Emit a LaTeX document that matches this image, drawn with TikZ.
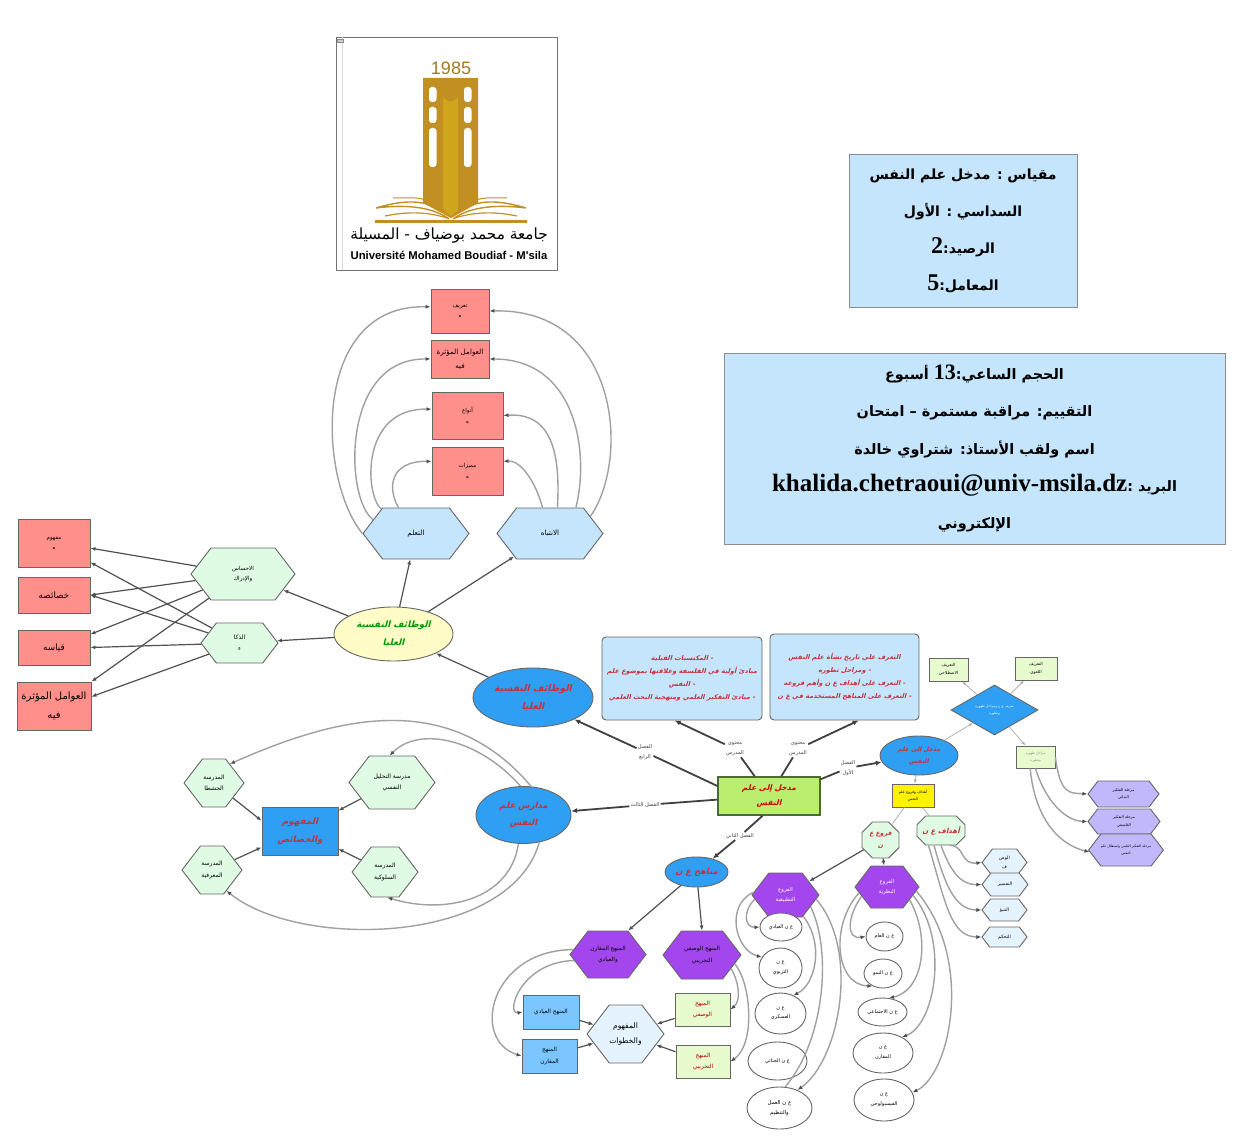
\documentclass[tikz,border=0pt]{standalone}
\usepackage{fontspec}
\usetikzlibrary{arrows.meta,shapes.geometric,shapes.misc,shapes.symbols}
\TeXXeTstate=1
\newfontfamily\arfont[Script=Arabic]{DejaVu Sans}
\newfontfamily\arbold[Script=Arabic]{DejaVu Sans Bold}
\newfontfamily\arslant[Script=Arabic,FakeSlant=0.25]{DejaVu Sans Bold}
\newfontfamily\lsans{Liberation Sans}
\newfontfamily\lserif{Liberation Serif}
\newcommand{\ar}[1]{\beginR #1\endR}
\newcommand{\arsize}[2]{\pgfmathsetlengthmacro\lineskp{#2*#1}\fontsize{#1}{\lineskp}\selectfont}
\definecolor{goldc}{HTML}{C28F22}
\definecolor{redbox}{HTML}{FF8F8A}
\definecolor{skyc}{HTML}{C5E5FC}
\definecolor{mintc}{HTML}{DFFBE3}
\definecolor{bluec}{HTML}{2E9FF2}
\definecolor{violetc}{HTML}{A446EE}
\definecolor{lilacc}{HTML}{C0B8FB}
\definecolor{limec}{HTML}{E8FBCF}
\definecolor{paleb}{HTML}{E4F3FD}
\definecolor{midb}{HTML}{7CC6FF}
\definecolor{mainc}{HTML}{BBEE6E}
\definecolor{maind}{HTML}{4A6B35}
\definecolor{redtxt}{HTML}{C8303C}
\definecolor{edgec}{HTML}{505050}
\definecolor{curvec}{HTML}{A0A0A0}
\tikzset{
	wh/.style 2 args={minimum width=#1*0.5pt,minimum height=#2*0.5pt},
	tx/.style={font=\arfont\arsize{#1}{1.9}},
	txs/.style={font=\arslant\arsize{#1}{2}},
	basic/.style={draw=black!60,inner sep=0pt,align=center,line width=0.45pt},
	hexa/.style={basic,shape=signal,signal to=east and west,signal pointer angle=105},
	box/.style={basic,rectangle},
	oval/.style={basic,ellipse},
	octa/.style={basic,chamfered rectangle},
	lbl/.style={inner sep=0.5pt,align=center,text=black!75,tx=2.6},
	lnk/.style={edgec,line width=0.6pt,-{Latex[length=2.5pt,width=2pt]}},
	thick edge/.style={black!75,line width=0.9pt},
	thick arrow/.style={black!75,line width=0.9pt,-{Latex[length=3pt,width=2.5pt]}},
	thin edge/.style={black!30,line width=0.4pt},
	thin arrow/.style={black!30,line width=0.4pt,-{Latex[length=2pt,width=1.6pt]}},
	curvy/.style={curvec,line width=0.7pt,-{Latex[length=2.5pt,width=2pt,fill=black!70,color=black!70]}},
}
\begin{document}
\begin{tikzpicture}[x=0.5pt,y=-0.5pt]
	\useasboundingbox (0,0) rectangle (1241,1144);
	%%%%% LOGO %%%%%
	\draw[black!55,line width=0.4pt,fill=white] (336,37) rectangle (557,270);
	\draw[black!15,line width=0.3pt] (342,37) -- (342,270);
	\draw[black!45,fill=black!20,line width=0.2pt] (337,39) rectangle (343,42);
	\node[text=goldc!85!black,font=\lsans\fontsize{9}{9}\selectfont] (year) at (451,68) {1985};
	\fill[goldc] (423,78) -- (478,78) -- (478,203) -- (451,218) -- (423,203) -- cycle;
	\fill[goldc!80!yellow] (443,94) arc (180:0:7.5) -- (458,214) -- (451,218) -- (443,214) -- cycle;
	\foreach \wx in {429,464} {
		\fill[white,rounded corners=1.5pt] (\wx,87) rectangle (\wx+7.5,102);
		\fill[white,rounded corners=1.5pt] (\wx,107) rectangle (\wx+7.5,123);
		\fill[white,rounded corners=1.5pt] (\wx,128) rectangle (\wx+7.5,167);
	}
	\fill[goldc] (375,220) rectangle (527,223);
	\draw[goldc,line width=0.7pt] (451,217) .. controls (430,200) and (410,198) .. (376,208) .. controls (400,205) and (430,205) .. (449,219);
	\draw[goldc,line width=0.7pt] (451,217) .. controls (472,200) and (492,198) .. (526,208) .. controls (502,205) and (472,205) .. (453,219);
	\draw[goldc,line width=0.5pt] (445,211) .. controls (425,195) and (415,198) .. (393,198);
	\draw[goldc,line width=0.5pt] (457,211) .. controls (477,195) and (487,198) .. (507,198);
	\draw[goldc,line width=0.6pt] (447,218) .. controls (425,211) and (405,212) .. (385,216);
	\draw[goldc,line width=0.6pt] (455,218) .. controls (477,211) and (497,212) .. (517,216);
	\node[font=\arfont\fontsize{7.65}{8}\selectfont] (uniar) at (449,236) {\ar{جامعة محمد بوضياف - المسيلة}};
	\node[font=\lsans\bfseries\fontsize{5.65}{6}\selectfont] (unila) at (449,255) {Université Mohamed Boudiaf - M'sila};

	%%%%% INFO BOXES %%%%%
	\node[box,draw=black!45,fill=skyc,wh={228}{153},font=\arbold\fontsize{7}{18.5}\selectfont] (info1) at (963,230.5)
		{\ar{مقياس : مدخل علم النفس}\\\ar{السداسي : الأول}\\\ar{الرصيد:{\lserif\bfseries\fontsize{12}{18.5}\selectfont 2}}\\\ar{المعامل:{\lserif\bfseries\fontsize{12}{18.5}\selectfont 5}}};
	\node[box,draw=black!45,fill=skyc,wh={501}{191},font=\arbold\fontsize{7.2}{18.7}\selectfont] (info2) at (974.5,448.5)
		{\ar{الحجم الساعي:\beginL{\lserif\bfseries\fontsize{11}{18.7}\selectfont 13}\endL{} أسبوع}\\\ar{التقييم: مراقبة مستمرة – امتحان}\\\ar{اسم ولقب الأستاذ: شتراوي خالدة}\\\ar{البريد :\beginL{\lserif\bfseries\fontsize{12.5}{18.7}\selectfont khalida.chetraoui@univ-msila.dz}\endL}\\\ar{الإلكتروني}};

	%%%%% HIGHER FUNCTIONS %%%%%
	\node[box,fill=redbox,wh={58}{44},tx=2.8] (deftop) at (460,311) {\ar{تعريف}\\\ar{ه}};
	\node[box,fill=redbox,wh={58}{38},tx=3.6] (factop) at (460,359) {\ar{العوامل المؤثرة}\\\ar{فيه}};
	\node[box,fill=redbox,wh={71}{47},tx=2.8] (typetop) at (467.5,415.5) {\ar{أنواع}\\\ar{ه}};
	\node[box,fill=redbox,wh={71}{48},tx=2.8] (featop) at (467.5,471) {\ar{مميزات}\\\ar{ه}};
	\node[hexa,fill=skyc,wh={106}{51},tx=3.6] (learn) at (416,533.5) {\ar{التعلم}};
	\node[hexa,fill=skyc,wh={106}{51},tx=3.6] (attn) at (550,533.5) {\ar{الانتباه}};
	\node[box,fill=redbox,wh={72}{48},tx=2.8] (conc) at (54,543) {\ar{مفهوم}\\\ar{ه}};
	\node[box,fill=redbox,wh={72}{36},tx=4.4] (prop) at (54,595) {\ar{خصائصه}};
	\node[box,fill=redbox,wh={72}{35},tx=4.4] (meas) at (54,647.5) {\ar{قياسه}};
	\node[box,fill=redbox,wh={74}{48},tx=5] (fact) at (54,706) {\ar{العوامل المؤثرة}\\\ar{فيه}};
	\node[hexa,fill=mintc,wh={104}{52},tx=2.8] (sense) at (243,574) {\ar{الاحساس}\\\ar{والإدراك}};
	\node[hexa,fill=mintc,wh={77}{40},tx=3] (intel) at (239.5,643) {\ar{الذكا}\\\ar{ء}};
	\node[oval,fill=yellow!22,wh={119}{54},txs=4.4,text=green!60!black] (func) at (393.5,634) {\ar{الوظائف النفسية}\\\ar{العليا}};
	\node[oval,fill=bluec,wh={120}{59},txs=4.6,text=redtxt] (funcb) at (533,697.5) {\ar{الوظائف النفسية}\\\ar{العليا}};
	\draw[lnk] (func) -- (learn);
	\draw[lnk] (func) -- (attn);
	\draw[lnk] (func) -- (sense);
	\draw[lnk] (func) -- (intel);
	\draw[lnk] (funcb) -- (func);
	\draw[lnk] (sense) -- (conc.-8);
	\draw[lnk] (intel) -- (conc.-28);
	\draw[lnk] (sense) -- (prop.east);
	\draw[lnk] (intel) -- (prop.east);
	\draw[lnk] (sense) -- (meas.20);
	\draw[lnk] (intel) -- (meas.east);
	\draw[lnk] (sense) -- (fact.33);
	\draw[lnk] (intel) -- (fact.14);
	\draw[curvy] (learn.180) .. controls (318,480) and (310,304) .. (deftop.172);
	\draw[curvy] (learn.162) .. controls (345,500) and (340,358) .. (factop.west);
	\draw[curvy] (learn.145) .. controls (365,495) and (360,408) .. (typetop.170);
	\draw[curvy] (learn.124) .. controls (388,490) and (388,461) .. (featop.165);
	\draw[curvy] (attn.23) .. controls (630,460) and (620,308) .. (deftop.east);
	\draw[curvy] (attn.45) .. controls (590,450) and (575,359) .. (factop.east);
	\draw[curvy] (attn.74) .. controls (560,460) and (555,412) .. (typetop.east);
	\draw[curvy] (attn.106) .. controls (535,480) and (520,460) .. (featop.15);

	%%%%% CENTRE %%%%%
	\node[box,draw=maind,line width=0.7pt,fill=mainc,wh={102}{38},txs=3.8,text=red!80!black] (main) at (769,796) {\ar{مدخل إلى علم}\\\ar{النفس}};
	\node[box,rounded corners=2pt,fill=skyc,wh={160}{83},txs=3.25,text=redtxt] (prereq) at (682,678.5)
		{\ar{- المكتسبات القبلية}\\\ar{مبادئ أولية في الفلسفة وعلاقتها بموضوع علم}\\\ar{- النفس}\\\ar{- مبادئ التفكير العلمي ومنهجية البحث العلمي}};
	\node[box,rounded corners=2pt,fill=skyc,wh={149}{86},txs=3.25,text=redtxt] (goals) at (844.5,677)
		{\ar{التعرف على تاريخ نشأة علم النفس}\\\ar{- ومراحل تطوره}\\\ar{- التعرف على أهداف ع ن وأهم فروعه}\\\ar{- التعرف على المناهج المستخدمة في ع ن}};
	\node[oval,fill=bluec,wh={78}{39},txs=3,text=redtxt] (intro) at (919,755.5) {\ar{مدخل إلى علم}\\\ar{النفس}};
	\node[oval,fill=bluec,wh={95}{57},txs=4.2,text=redtxt] (schools) at (523.5,815) {\ar{مدارس علم}\\\ar{النفس}};
	\node[oval,fill=bluec,wh={63}{30},txs=4.2,text=redtxt] (meth) at (696.5,872) {\ar{مناهج ع ن}};
	\node[lbl] (lab4) at (645,752) {\ar{الفصل}\\\ar{الرابع}};
	\node[lbl] (lab5) at (735,749) {\ar{محتوى}\\\ar{المدرس}};
	\node[lbl] (lab6) at (798,749) {\ar{محتوى}\\\ar{المدرس}};
	\node[lbl] (lab1) at (848,768) {\ar{الفصل}\\\ar{الأول}};
	\node[lbl] (lab3) at (645,805) {\ar{الفصل الثالث}};
	\node[lbl] (lab2) at (740,836) {\ar{الفصل الثاني}};
	\draw[thick edge] (main.169) -- (lab4);
	\draw[thick arrow] (lab4) -- (funcb.-28);
	\draw[thick edge] (main.126) -- (lab5);
	\draw[thick arrow] (lab5) -- (prereq.-100);
	\draw[thick edge] (main.58) -- (lab6);
	\draw[thick arrow] (lab6) -- (goals.-72);
	\draw[thick edge] (main.18) -- (lab1);
	\draw[thick arrow] (lab1) -- (intro);
	\draw[thick edge] (main.184) -- (lab3);
	\draw[thick arrow] (lab3) -- (schools);
	\draw[thick edge] (main.252) -- (lab2);
	\draw[thick arrow] (lab2) -- (meth);

	%%%%% INTRO BRANCH %%%%%
	\node[box,fill=yellow,wh={42}{23},tx=1.9] (aims) at (913,795.5) {\ar{أهداف وفروع علم}\\\ar{النفس}};
	\node[octa,chamfered rectangle xsep=2.6pt,chamfered rectangle ysep=2.6pt,fill=mintc,wh={37}{36},txs=3.1,text=redtxt] (branch) at (880.5,840) {\ar{فروع ع}\\\ar{ن}};
	\node[octa,chamfered rectangle xsep=3pt,chamfered rectangle ysep=2.2pt,fill=mintc,wh={48}{29},txs=3.5,text=redtxt] (objs) at (941,830.5) {\ar{أهداف ع ن}};
	\node[diamond,basic,fill=bluec,wh={87}{50},tx=1.7,text=white] (defn) at (994.5,710) {\ar{تعريف ع ن ومراحل ظهوره}\\\ar{وتطوره}};
	\node[box,fill=limec,wh={39}{23},tx=2.1] (termdef) at (948.5,669.5) {\ar{التعريف}\\\ar{الاصطلاحي}};
	\node[box,fill=limec,wh={42}{23},tx=2.1] (langdef) at (1036,668.5) {\ar{التعريف}\\\ar{اللغوي}};
	\node[box,fill=limec,wh={39}{22},tx=1.7,text=black!45] (stages) at (1035.5,757) {\ar{مراحل ظهوره}\\\ar{وتطوره}};
	\node[hexa,fill=lilacc,wh={71}{26},tx=1.9] (st1) at (1123.5,794) {\ar{مرحلة التفكير}\\\ar{البدائي}};
	\node[hexa,fill=lilacc,wh={72}{25},tx=1.9] (st2) at (1124,821.5) {\ar{مرحلة التفكير}\\\ar{الفلسفي}};
	\node[hexa,fill=lilacc,wh={74}{32},tx=1.7] (st3) at (1126,850) {\ar{مرحلة التفكير العلمي واستقلال علم}\\\ar{النفس}};
	\node[hexa,fill=paleb,wh={45}{27},tx=2.3] (ob1) at (1004.5,862.5) {\ar{الوص}\\\ar{ف}};
	\node[hexa,fill=paleb,wh={46}{23},tx=2.3] (ob2) at (1005,884.5) {\ar{التفسير}};
	\node[hexa,fill=paleb,wh={45}{22},tx=2.3] (ob3) at (1004.5,910) {\ar{التنبؤ}};
	\node[hexa,fill=paleb,wh={45}{20},tx=2.3] (ob4) at (1004.5,937) {\ar{التحكم}};
	\draw[thin arrow] (intro) -- (aims);
	\draw[thin arrow] (intro) -- (defn);
	\draw[thin edge] (aims) -- (branch);
	\draw[thin edge] (aims) -- (objs);
	\draw[thin arrow] (defn) -- (termdef);
	\draw[thin arrow] (defn) -- (langdef);
	\draw[thin arrow] (defn) -- (stages);
	\draw[curvy] (stages.east) .. controls (1060,795) and (1070,793) .. (st1.west);
	\draw[curvy] (stages.south) .. controls (1045,800) and (1065,821) .. (st2.west);
	\draw[curvy] (stages.-115) .. controls (1035,820) and (1060,845) .. (st3.183);
	\draw[curvy] (objs.-60) .. controls (965,845) and (960,865) .. (ob1.west);
	\draw[curvy] (objs.-90) .. controls (950,870) and (960,885) .. (ob2.west);
	\draw[curvy] (objs.-115) .. controls (945,885) and (955,910) .. (ob3.west);
	\draw[curvy] (objs.-130) .. controls (945,900) and (950,937) .. (ob4.west);

	%%%%% BRANCHES %%%%%
	\node[hexa,fill=violetc,wh={67}{44},tx=2.7,text=white] (appl) at (785.5,895) {\ar{الفروع}\\\ar{التطبيقية}};
	\node[hexa,fill=violetc,wh={64}{42},tx=2.7,text=white] (theo) at (887,887) {\ar{الفروع}\\\ar{النظرية}};
	\draw[lnk] (branch) -- (appl);
	\draw[lnk] (branch) -- (theo);
	\node[oval,fill=white,wh={42}{28},tx=2.5] (clin) at (781,927) {\ar{ع ن العيادي}};
	\node[oval,fill=white,wh={43}{40},tx=2.5] (educ) at (780.5,968) {\ar{ع ن}\\\ar{التربوي}};
	\node[oval,fill=white,wh={51}{41},tx=2.5] (milt) at (780.5,1013.5) {\ar{ع ن}\\\ar{العسكري}};
	\node[oval,fill=white,wh={59}{38},tx=2.5] (crim) at (777.5,1061) {\ar{ع ن الجنائي}};
	\node[oval,fill=white,wh={65}{42},tx=2.7] (work) at (779.5,1108) {\ar{ع ن العمل}\\\ar{والتنظيم}};
	\node[oval,fill=white,wh={37}{29},tx=2.5] (gene) at (884.5,936.5) {\ar{ع ن العام}};
	\node[oval,fill=white,wh={38}{29},tx=2.5] (grow) at (883,973.5) {\ar{ع ن النمو}};
	\node[oval,fill=white,wh={49}{28},tx=2.5] (soci) at (882.5,1012) {\ar{ع ن الاجتماعي}};
	\node[oval,fill=white,wh={60}{40},tx=2.5] (comp) at (883,1053) {\ar{ع ن}\\\ar{المقارن}};
	\node[oval,fill=white,wh={60}{42},tx=2.5] (phys) at (884,1100) {\ar{ع ن}\\\ar{الفيسيولوجي}};
	\draw[curvy] (appl.188) .. controls (742,912) and (745,928) .. (clin.west);
	\draw[curvy] (appl.175) .. controls (725,905) and (735,950) .. (educ.150);
	\draw[curvy] (appl.-50) .. controls (825,945) and (815,985) .. (milt.55);
	\draw[curvy,-] (appl.-25) .. controls (832,950) and (825,1040) .. (work.75);
	\draw[curvy] (appl.-8) .. controls (860,950) and (840,1060) .. (work.45);
	\draw[curvy] (theo.200) .. controls (848,915) and (845,940) .. (gene.west);
	\draw[curvy] (theo.192) .. controls (830,925) and (835,985) .. (grow.-130);
	\draw[curvy] (theo.-30) .. controls (930,935) and (925,990) .. (soci.65);
	\draw[curvy] (theo.-18) .. controls (950,940) and (935,1025) .. (comp.40);
	\draw[curvy] (theo.-8) .. controls (975,960) and (950,1075) .. (phys.15);

	%%%%% METHODS %%%%%
	\node[hexa,fill=violetc,wh={76}{47},tx=2.9] (mcomp) at (608,954.5) {\ar{المنهج المقارن}\\\ar{والعيادي}};
	\node[hexa,fill=violetc,wh={78}{48},tx=2.9] (mdesc) at (702,955) {\ar{المنهج الوصفي}\\\ar{التجريبي}};
	\node[box,fill=midb,wh={56}{34},tx=2.9] (clinm) at (551,1012) {\ar{المنهج العيادي}};
	\node[box,fill=midb,wh={55}{34},tx=2.9] (compm) at (549.5,1056) {\ar{المنهج}\\\ar{المقارن}};
	\node[hexa,fill=paleb,wh={77}{58},tx=3.8] (steps) at (625.5,1034) {\ar{المفهوم}\\\ar{والخطوات}};
	\node[box,fill=limec,wh={55}{33},tx=2.9,text=red!70!black] (descm) at (702.5,1009.5) {\ar{المنهج}\\\ar{الوصفي}};
	\node[box,fill=limec,wh={54}{33},tx=2.9,text=red!70!black] (expm) at (703,1061.5) {\ar{المنهج}\\\ar{التجريبي}};
	\draw[lnk] (meth) -- (mcomp.50);
	\draw[lnk] (meth) -- (mdesc.north);
	\draw[lnk] (clinm) -- (steps);
	\draw[lnk] (compm) -- (steps);
	\draw[lnk] (descm) -- (steps);
	\draw[lnk] (expm) -- (steps);
	\draw[curvy] (mcomp.172) .. controls (490,950) and (470,1040) .. (compm.west);
	\draw[curvy] (mcomp.190) .. controls (520,962) and (505,1015) .. (clinm.west);
	\draw[curvy] (mdesc.-25) .. controls (738,980) and (742,1000) .. (descm.east);
	\draw[curvy] (mdesc.-15) .. controls (752,985) and (755,1045) .. (expm.east);

	%%%%% SCHOOLS %%%%%
	\node[box,fill=bluec,wh={76}{48},txs=4.4,text=redtxt] (schcon) at (300,831) {\ar{المفهوم}\\\ar{والخصائص}};
	\node[hexa,fill=mintc,wh={86}{53},tx=3] (psya) at (392,782.5) {\ar{مدرسة التحليل}\\\ar{النفسي}};
	\node[hexa,fill=mintc,wh={60}{48},tx=3] (gest) at (214,783) {\ar{المدرسة}\\\ar{الجشطا}};
	\node[hexa,fill=mintc,wh={60}{48},tx=3] (cogn) at (212,870) {\ar{المدرسة}\\\ar{المعرفية}};
	\node[hexa,fill=mintc,wh={66}{50},tx=3] (behv) at (385,872) {\ar{المدرسة}\\\ar{السلوكية}};
	\draw[lnk] (psya) -- (schcon.28);
	\draw[lnk] (gest) -- (schcon.165);
	\draw[lnk] (cogn) -- (schcon.203);
	\draw[lnk] (behv) -- (schcon.-25);
	\draw[curvy] (schools.96) .. controls (480,740) and (420,725) .. (psya.95);
	\draw[curvy] (schools.75) .. controls (450,690) and (340,715) .. (gest.50);
	\draw[curvy] (schools.-100) .. controls (510,900) and (445,915) .. (behv.-85);
	\draw[curvy] (schools.-60) .. controls (510,945) and (300,950) .. (cogn.-55);
\end{tikzpicture}
\end{document}
